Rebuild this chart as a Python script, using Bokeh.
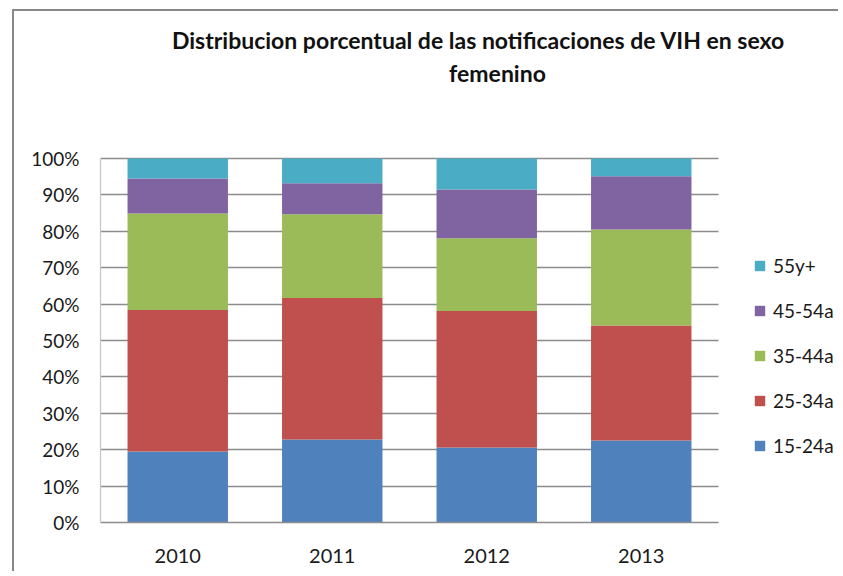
from bokeh.plotting import figure
from bokeh.models import (ColumnDataSource, Range1d, FixedTicker,
                          PrintfTickFormatter, Legend, LegendItem, Label)
from bokeh.embed import file_html
from bokeh.resources import INLINE

years = ["2010", "2011", "2012", "2013"]
groups = ["15-24a", "25-34a", "35-44a", "45-54a", "55y+"]
a15_24 = [19.5, 22.8, 20.6, 22.5]
a25_34 = [38.9, 38.9, 37.5, 31.6]
a35_44 = [26.5, 23.0, 20.0, 26.4]
a45_54 = [9.6, 8.5, 13.4, 14.6]
a55 = [5.5, 6.8, 8.5, 4.9]
colors = ["#4F81BD", "#C0504D", "#9BBB59", "#8064A2", "#4BACC6"]
y_ticks = [0, 10, 20, 30, 40, 50, 60, 70, 80, 90, 100]
title_lines = ["Distribucion porcentual de las notificaciones de VIH en sexo",
               "femenino"]

xpos = list(range(1, len(years) + 1))
source = ColumnDataSource(data={"x": xpos, "15-24a": a15_24, "25-34a": a25_34,
                                "35-44a": a35_44, "45-54a": a45_54, "55y+": a55})

font = "Lato"
W, H = 826, 562
b_left, b_right, b_top, b_bottom = 86, 2, 1, 51
frame_w = W - b_left - b_right
frame_h = H - b_top - b_bottom
step_px = 618 / len(years)        # pixel width of one category slot
plot_h_px = 364                   # pixel height of 0..100 %
x0 = 0.5
x1 = x0 + frame_w / step_px
y1 = 100 * frame_h / plot_h_px

p = figure(x_range=Range1d(x0, x1), y_range=Range1d(0, y1),
           width=W, height=H, output_backend="svg", toolbar_location=None,
           min_border_left=b_left, min_border_right=b_right,
           min_border_top=b_top, min_border_bottom=b_bottom,
           styles={"margin-left": "12px", "margin-top": "9px",
                   "border-left": "2px solid #888888",
                   "border-top": "2px solid #888888"})
p.outline_line_color = None
p.title.visible = False

rs = p.vbar_stack(groups, x="x", width=0.65, source=source, color=colors,
                  line_color=None)

p.yaxis.ticker = FixedTicker(ticks=y_ticks)
p.yaxis.formatter = PrintfTickFormatter(format="%d%%")
p.yaxis.bounds = (0, 100)
p.xaxis.ticker = FixedTicker(ticks=xpos)
p.xaxis.major_label_overrides = {x: y for x, y in zip(xpos, years)}
p.xaxis.bounds = (0.5, len(years) + 0.5)
for ax in (p.xaxis[0], p.yaxis[0]):
    ax.major_tick_line_color = None
    ax.minor_tick_line_color = None
    ax.major_label_text_font = font
    ax.major_label_text_color = "#1a1a1a"
p.yaxis.major_label_text_font_size = "19px"
p.xaxis.major_label_text_font_size = "20px"
p.yaxis.axis_line_color = "#c8c8c8"
p.yaxis.axis_line_width = 1.3
p.yaxis.major_label_standoff = 15
p.xaxis.axis_line_color = "#8c8c8c"
p.xaxis.axis_line_width = 1.5
p.xaxis.major_label_standoff = 20
p.xgrid.grid_line_color = None
p.ygrid.grid_line_color = "#8c8c8c"
p.ygrid.grid_line_width = 1.3
p.ygrid.ticker = FixedTicker(ticks=y_ticks)
try:
    p.ygrid.cross_bounds = (0.5, len(years) + 0.5)
except Exception:
    p.ygrid.grid_line_color = None
    p.segment(x0=[0.5] * len(y_ticks), x1=[len(years) + 0.5] * len(y_ticks),
              y0=y_ticks, y1=y_ticks, line_color="#8c8c8c", line_width=1.3,
              level="underlay")

items = [LegendItem(label=g, renderers=[r]) for g, r in zip(groups, rs)][::-1]
legend = Legend(items=items, location=(653, 65), padding=0, margin=0,
                border_line_color=None, background_fill_alpha=0,
                glyph_width=13, glyph_height=13, label_height=22, spacing=22,
                label_standoff=7, label_text_font=font, label_text_font_size="19px",
                label_text_color="#1a1a1a")
p.add_layout(legend, "center")

for txt, xs, ys in zip(title_lines, [378, 397], [483, 450]):
    p.add_layout(Label(x=xs, y=ys, x_units="screen", y_units="screen",
                       text=txt, text_align="center", text_baseline="alphabetic",
                       text_font=font, text_font_style="bold",
                       text_font_size="23px", text_color="#111111"))

open("out.html", "w").write(file_html(p, INLINE))
